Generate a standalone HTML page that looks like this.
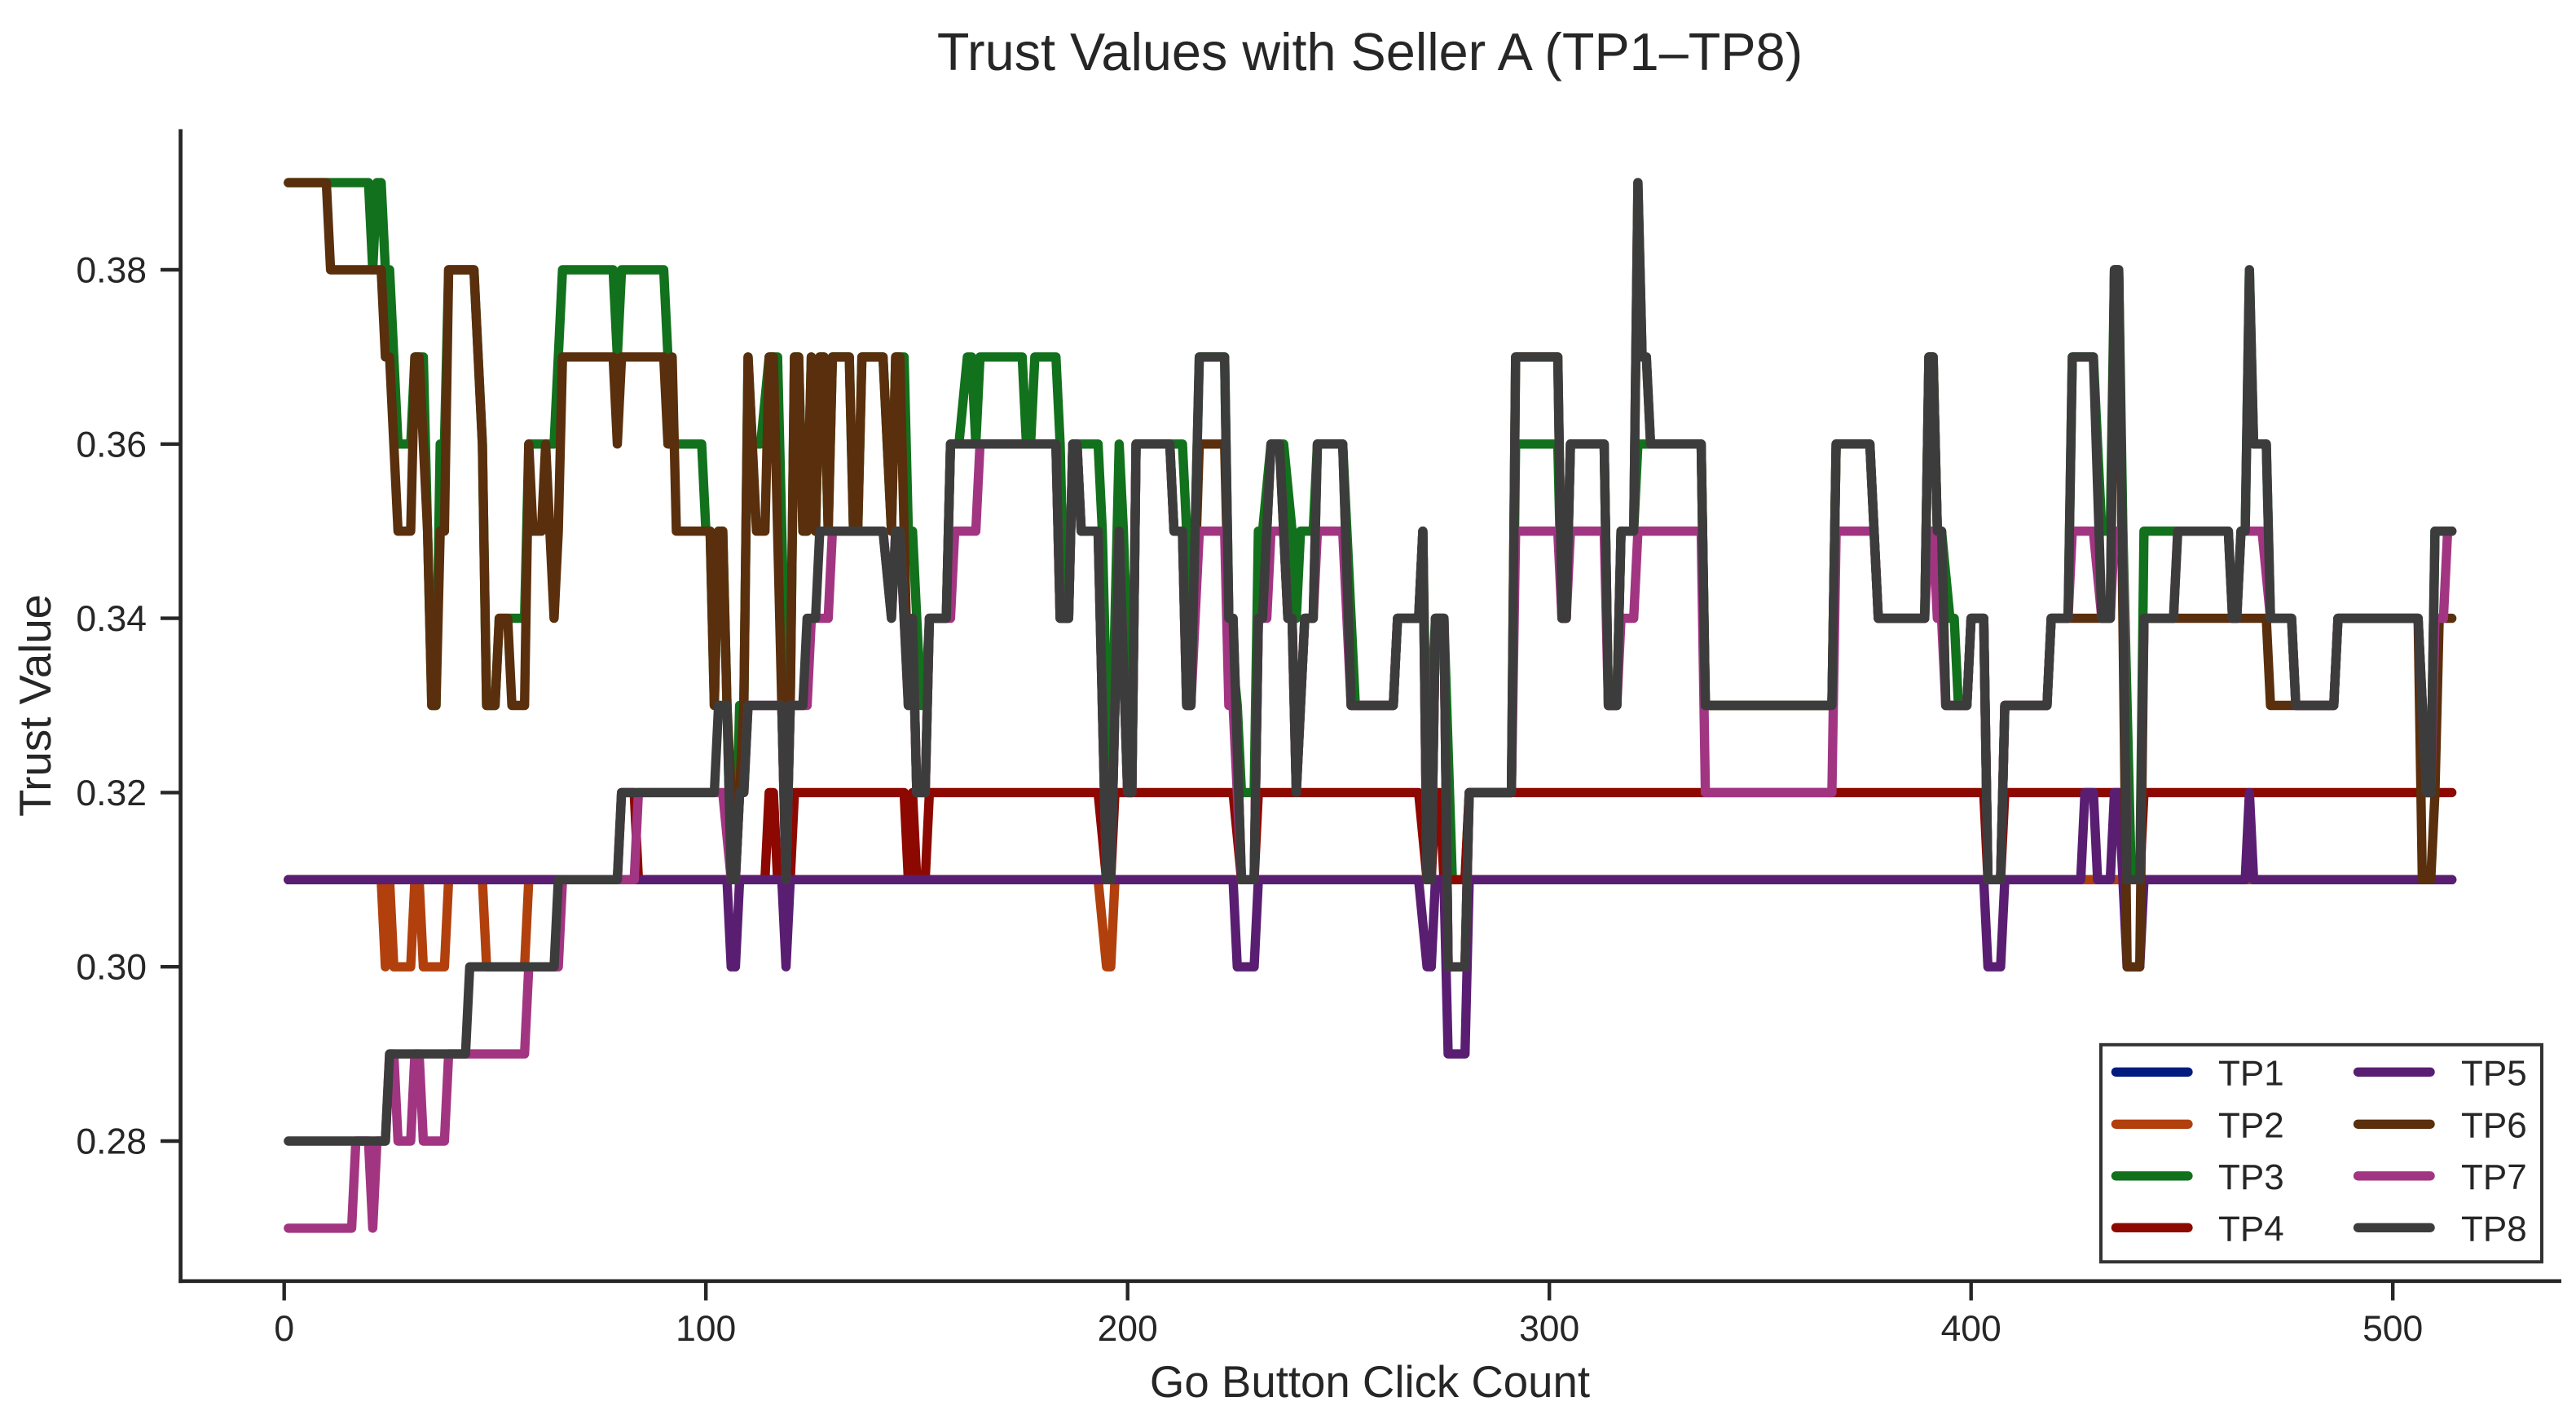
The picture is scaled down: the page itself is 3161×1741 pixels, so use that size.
<!DOCTYPE html>
<html lang="en">
<head>
<meta charset="utf-8">
<title>Trust Values with Seller A</title>
<style>
html,body{margin:0;padding:0;background:#fff;}
svg{display:block;font-family:"Liberation Sans",Arial,sans-serif;}
</style>
</head>
<body>
<svg id="chart" xmlns="http://www.w3.org/2000/svg" width="3161" height="1741" viewBox="0 0 3161 1741">
  <rect x="0" y="0" width="3161" height="1741" fill="#ffffff"/>
  <text x="1681" y="86" font-size="64.8" text-anchor="middle" fill="#262626">Trust Values with Seller A (TP1–TP8)</text>
  <text x="1681" y="1714" font-size="54.6" text-anchor="middle" fill="#262626">Go Button Click Count</text>
  <text transform="translate(62 865.5) rotate(-90)" font-size="54.6" text-anchor="middle" fill="#262626">Trust Value</text>
  <g id="ticks"></g>
  <g id="series"></g>
  <line x1="221.6" y1="158.5" x2="221.6" y2="1574.1" stroke="#262626" stroke-width="4.7"/>
  <line x1="219.3" y1="1571.8" x2="3143" y2="1571.8" stroke="#262626" stroke-width="4.7"/>
  <g id="legend">
    <rect x="2578" y="1281.8" width="541" height="266.4" fill="#ffffff" stroke="#333333" stroke-width="4"/>
  </g>
</svg>
<script>
const xTicks = [0, 100, 200, 300, 400, 500];
const yTicks = [0.28, 0.30, 0.32, 0.34, 0.36, 0.38];
const seriesNames = ['TP1', 'TP2', 'TP3', 'TP4', 'TP5', 'TP6', 'TP7', 'TP8'];
const seriesColors = ['#001c7f', '#b1400d', '#12711c', '#8c0800', '#591e71', '#592f0d', '#a23582', '#3c3c3c'];

const tp1Points = [[1,.31],[514,.31]];
const tp2Points = [[1,.31],[23,.31],[24,.30],[25,.31],[26,.30],[30,.30],[31,.31],[32,.31],[33,.30],[38,.30],[39,.31],[47,.31],[48,.30],[57,.30],[58,.31],[193,.31],[195,.30],[196,.30],[197,.31],[514,.31]];
const tp3Points = [[1,.39],[20,.39],[21,.38],[22,.39],[23,.39],[24,.38],[25,.38],[26,.37],[27,.36],[30,.36],[31,.37],[33,.37],[34,.35],[35,.33],[36,.33],[37,.36],[38,.36],[39,.38],[45,.38],[46,.37],[47,.36],[48,.33],[50,.33],[51,.34],[57,.34],[58,.36],[64,.36],[65,.37],[66,.38],[78,.38],[79,.37],[80,.38],[90,.38],[91,.37],[92,.36],[99,.36],[100,.35],[101,.35],[102,.33],[103,.35],[104,.35],[105,.33],[106,.31],[107,.31],[108,.33],[109,.33],[110,.37],[111,.36],[113,.36],[115,.37],[117,.37],[119,.33],[120,.33],[121,.37],[122,.37],[123,.35],[124,.35],[125,.37],[126,.35],[127,.37],[128,.37],[129,.35],[130,.37],[134,.37],[135,.35],[136,.35],[137,.37],[142,.37],[144,.35],[145,.37],[147,.37],[148,.35],[149,.35],[150,.34],[151,.33],[152,.33],[153,.34],[157,.34],[158,.36],[160,.36],[162,.37],[163,.37],[164,.36],[165,.37],[175,.37],[176,.36],[177,.36],[178,.37],[183,.37],[184,.36],[185,.34],[186,.34],[187,.36],[193,.36],[194,.35],[195,.33],[196,.32],[198,.36],[199,.35],[201,.32],[202,.36],[213,.36],[214,.35],[215,.33],[217,.37],[223,.37],[224,.34],[226,.33],[227,.32],[230,.32],[231,.35],[232,.35],[234,.36],[237,.36],[239,.35],[240,.34],[241,.35],[244,.35],[245,.36],[251,.36],[252,.35],[254,.33],[263,.33],[264,.34],[269,.34],[270,.35],[271,.32],[273,.34],[275,.34],[277,.31],[280,.31],[281,.32],[291,.32],[292,.36],[302,.36],[303,.34],[304,.34],[305,.36],[313,.36],[314,.33],[316,.33],[317,.35],[320,.35],[321,.36],[336,.36],[337,.33],[367,.33],[368,.36],[376,.36],[377,.35],[378,.34],[389,.34],[390,.37],[391,.37],[392,.35],[393,.35],[395,.34],[396,.34],[397,.33],[399,.33],[400,.34],[403,.34],[404,.31],[407,.31],[408,.33],[418,.33],[419,.34],[423,.34],[424,.37],[429,.37],[431,.35],[433,.35],[434,.38],[435,.38],[436,.35],[438,.31],[440,.31],[441,.35],[461,.35],[462,.34],[463,.34],[464,.35],[465,.35],[466,.38],[467,.36],[470,.36],[471,.34],[476,.34],[477,.33],[486,.33],[487,.34],[506,.34],[508,.32],[509,.32],[510,.35],[514,.35]];
const tp4Points = [[1,.31],[79,.31],[80,.32],[83,.32],[84,.31],[114,.31],[115,.32],[116,.32],[117,.31],[120,.31],[121,.32],[147,.32],[148,.31],[149,.32],[150,.31],[152,.31],[153,.32],[193,.32],[195,.31],[196,.31],[197,.32],[225,.32],[227,.31],[230,.31],[231,.32],[269,.32],[271,.31],[272,.31],[273,.32],[274,.32],[275,.31],[280,.31],[281,.32],[403,.32],[404,.31],[407,.31],[408,.32],[436,.32],[437,.31],[440,.31],[441,.32],[514,.32]];
const tp5Points = [[1,.31],[105,.31],[106,.30],[107,.30],[108,.31],[118,.31],[119,.30],[120,.31],[225,.31],[226,.30],[230,.30],[231,.31],[269,.31],[271,.30],[272,.30],[273,.31],[275,.31],[276,.29],[280,.29],[281,.31],[403,.31],[404,.30],[407,.30],[408,.31],[426,.31],[427,.32],[429,.32],[430,.31],[433,.31],[434,.32],[435,.32],[436,.31],[437,.30],[440,.30],[441,.31],[465,.31],[466,.32],[467,.31],[514,.31]];
const tp6Points = [[1,.39],[10,.39],[11,.38],[23,.38],[24,.37],[25,.37],[26,.36],[27,.35],[30,.35],[31,.37],[32,.37],[33,.36],[34,.35],[35,.33],[36,.33],[37,.35],[38,.35],[39,.38],[45,.38],[46,.37],[47,.36],[48,.33],[50,.33],[51,.34],[53,.34],[54,.33],[57,.33],[58,.36],[59,.35],[61,.35],[62,.36],[63,.35],[64,.34],[65,.35],[66,.37],[78,.37],[79,.36],[80,.37],[90,.37],[91,.36],[92,.37],[93,.35],[101,.35],[102,.33],[103,.35],[104,.35],[105,.33],[107,.31],[108,.32],[109,.33],[110,.37],[111,.36],[112,.35],[114,.35],[115,.37],[116,.37],[119,.31],[120,.33],[121,.37],[122,.37],[123,.35],[124,.35],[125,.37],[126,.35],[127,.37],[128,.37],[129,.35],[130,.37],[134,.37],[135,.35],[136,.35],[137,.37],[142,.37],[144,.35],[145,.37],[146,.37],[148,.33],[149,.34],[150,.32],[152,.32],[153,.34],[157,.34],[158,.36],[183,.36],[184,.34],[186,.34],[187,.36],[188,.36],[189,.35],[193,.35],[195,.31],[196,.31],[198,.35],[200,.32],[201,.32],[202,.36],[210,.36],[211,.35],[213,.35],[214,.33],[215,.33],[217,.36],[223,.36],[224,.34],[225,.34],[227,.31],[230,.31],[231,.34],[232,.34],[234,.36],[236,.36],[238,.34],[239,.34],[240,.32],[242,.34],[244,.34],[245,.36],[251,.36],[253,.33],[263,.33],[264,.34],[269,.34],[270,.35],[271,.31],[272,.31],[273,.34],[275,.34],[276,.30],[280,.30],[281,.32],[291,.32],[292,.37],[302,.37],[303,.34],[304,.34],[305,.36],[313,.36],[314,.33],[316,.33],[317,.35],[320,.35],[321,.39],[322,.37],[323,.37],[324,.36],[336,.36],[337,.33],[367,.33],[368,.36],[376,.36],[377,.35],[378,.34],[389,.34],[390,.37],[391,.37],[392,.35],[393,.35],[394,.33],[399,.33],[400,.34],[403,.34],[404,.31],[407,.31],[408,.33],[418,.33],[419,.34],[433,.34],[434,.38],[435,.38],[436,.34],[437,.30],[440,.30],[441,.34],[470,.34],[471,.33],[486,.33],[487,.34],[506,.34],[507,.31],[509,.31],[510,.32],[511,.34],[514,.34]];
const tp7Points = [[1,.27],[16,.27],[17,.28],[20,.28],[21,.27],[22,.28],[24,.28],[25,.29],[26,.29],[27,.28],[30,.28],[31,.29],[32,.29],[33,.28],[38,.28],[39,.29],[57,.29],[58,.30],[65,.30],[66,.31],[83,.31],[84,.32],[104,.32],[106,.31],[107,.31],[108,.32],[109,.32],[110,.33],[118,.33],[119,.31],[120,.33],[124,.33],[125,.34],[129,.34],[130,.35],[142,.35],[144,.34],[145,.35],[146,.35],[148,.33],[149,.34],[150,.32],[152,.32],[153,.34],[158,.34],[159,.35],[164,.35],[165,.36],[183,.36],[184,.34],[186,.34],[187,.36],[188,.36],[189,.35],[193,.35],[195,.31],[196,.31],[198,.35],[200,.32],[201,.32],[202,.36],[210,.36],[211,.35],[213,.35],[214,.33],[215,.33],[217,.35],[223,.35],[224,.33],[225,.33],[227,.31],[230,.31],[231,.34],[233,.34],[234,.35],[237,.35],[238,.34],[239,.34],[240,.32],[242,.34],[244,.34],[245,.35],[251,.35],[253,.33],[263,.33],[264,.34],[269,.34],[270,.35],[271,.31],[272,.31],[273,.34],[275,.34],[276,.30],[280,.30],[281,.32],[291,.32],[292,.35],[302,.35],[303,.34],[304,.34],[305,.35],[313,.35],[314,.33],[316,.33],[317,.34],[320,.34],[321,.35],[336,.35],[337,.32],[367,.32],[368,.35],[377,.35],[378,.34],[389,.34],[390,.35],[391,.35],[392,.34],[393,.34],[394,.33],[399,.33],[400,.34],[403,.34],[404,.31],[407,.31],[408,.33],[418,.33],[419,.34],[423,.34],[424,.35],[429,.35],[431,.34],[433,.34],[434,.35],[436,.35],[437,.31],[440,.31],[441,.34],[448,.34],[449,.35],[461,.35],[462,.34],[463,.34],[464,.35],[469,.35],[471,.34],[476,.34],[477,.33],[486,.33],[487,.34],[506,.34],[508,.32],[509,.32],[510,.34],[512,.34],[513,.35],[514,.35]];
const tp8Points = [[1,.28],[24,.28],[25,.29],[43,.29],[44,.30],[64,.30],[65,.31],[79,.31],[80,.32],[102,.32],[103,.33],[105,.33],[106,.31],[107,.31],[108,.32],[109,.32],[110,.33],[118,.33],[119,.31],[120,.33],[123,.33],[124,.34],[126,.34],[127,.35],[142,.35],[144,.34],[145,.35],[146,.35],[148,.33],[149,.34],[150,.32],[152,.32],[153,.34],[157,.34],[158,.36],[183,.36],[184,.34],[186,.34],[187,.36],[188,.36],[189,.35],[193,.35],[195,.31],[196,.31],[198,.35],[200,.32],[201,.32],[202,.36],[210,.36],[211,.35],[213,.35],[214,.33],[215,.33],[217,.37],[223,.37],[224,.34],[225,.34],[227,.31],[230,.31],[231,.34],[232,.34],[234,.36],[236,.36],[238,.34],[239,.34],[240,.32],[242,.34],[244,.34],[245,.36],[251,.36],[253,.33],[263,.33],[264,.34],[269,.34],[270,.35],[271,.31],[272,.31],[273,.34],[275,.34],[276,.30],[280,.30],[281,.32],[291,.32],[292,.37],[302,.37],[303,.34],[304,.34],[305,.36],[313,.36],[314,.33],[316,.33],[317,.35],[320,.35],[321,.39],[322,.37],[323,.37],[324,.36],[336,.36],[337,.33],[367,.33],[368,.36],[376,.36],[377,.35],[378,.34],[389,.34],[390,.37],[391,.37],[392,.35],[393,.35],[394,.33],[399,.33],[400,.34],[403,.34],[404,.31],[407,.31],[408,.33],[418,.33],[419,.34],[423,.34],[424,.37],[429,.37],[431,.34],[433,.34],[434,.38],[435,.38],[437,.31],[440,.31],[441,.34],[448,.34],[449,.35],[461,.35],[462,.34],[463,.34],[464,.35],[465,.35],[466,.38],[467,.36],[470,.36],[471,.34],[476,.34],[477,.33],[486,.33],[487,.34],[506,.34],[508,.32],[509,.32],[510,.35],[514,.35]];

const allSeries = [tp1Points, tp2Points, tp3Points, tp4Points, tp5Points, tp6Points, tp7Points, tp8Points];

const NS = 'http://www.w3.org/2000/svg';
function xScale(click) { return 348.7 + 5.175 * click; }
function yScale(trust) { return 1400 - (trust - 0.28) * 10690; }
function make(tag, attrs) {
  const el = document.createElementNS(NS, tag);
  for (const key in attrs) el.setAttribute(key, attrs[key]);
  return el;
}

const tickGroup = document.getElementById('ticks');
xTicks.forEach(function (value) {
  const x = xScale(value);
  const mark = make('line', { x1: x, x2: x, y1: 1571.8, y2: 1595.5, stroke: '#262626', 'stroke-width': 4.4 });
  
  
  tickGroup.appendChild(mark);
  const label = make('text', { x: x, y: 1645, 'font-size': 44.5, 'text-anchor': 'middle', fill: '#262626' });
  
  
  label.textContent = String(value);
  tickGroup.appendChild(label);
});
yTicks.forEach(function (value) {
  const y = yScale(value);
  const mark = make('line', { x1: 197, x2: 221.6, y1: y, y2: y, stroke: '#262626', 'stroke-width': 4.4 });
  
  
  tickGroup.appendChild(mark);
  const label = make('text', { x: 180, y: y + 15.5, 'font-size': 44.5, 'text-anchor': 'end', fill: '#262626' });
  
  
  label.textContent = value.toFixed(2);
  tickGroup.appendChild(label);
});

const seriesGroup = document.getElementById('series');
allSeries.forEach(function (points, index) {
  const d = points.map(function (p, i) {
    return (i ? 'L' : 'M') + xScale(p[0]).toFixed(2) + ' ' + yScale(p[1]).toFixed(2);
  }).join('');
  const path = make('path', { d: d, fill: 'none', stroke: seriesColors[index], 'stroke-width': 11.4, 'stroke-linecap': 'round', 'stroke-linejoin': 'round' });
  
  
  seriesGroup.appendChild(path);
});

const legendGroup = document.getElementById('legend');
const legendRowCenters = [1315.3, 1379.3, 1442.8, 1506.3];
seriesNames.forEach(function (name, index) {
  const col = index < 4 ? 0 : 1;
  const y = legendRowCenters[index % 4];
  const x0 = col ? 2893.5 : 2596.4;
  const swatch = make('line', { x1: x0, x2: x0 + 88.6, y1: y, y2: y, stroke: seriesColors[index], 'stroke-width': 11.3, 'stroke-linecap': 'round' });
  
  
  legendGroup.appendChild(swatch);
  const label = make('text', { x: col ? 3020 : 2722, y: y + 16, 'font-size': 44, fill: '#262626' });
  
  
  label.textContent = name;
  legendGroup.appendChild(label);
});
</script>
</body>
</html>
